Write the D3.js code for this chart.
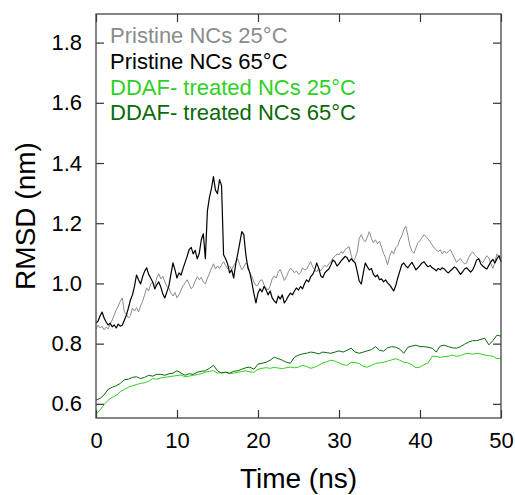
<!DOCTYPE html>
<html>
<head>
<meta charset="utf-8">
<script src="https://cdn.jsdelivr.net/npm/d3@7"></script>
<style>
  body { margin: 0; background: #fff; }
  svg text { font-family: "Liberation Sans", Arial, sans-serif; }
</style>
</head>
<body>
<svg id="chart"></svg>
<script>
let width = 515;
let height = 495;
let margin = { top: 14, right: 14, bottom: 77, left: 96 };

// sampled every 0.25 ns
let pristine25 = [
  0.848, 0.862, 0.852, 0.858, 0.846, 0.855, 0.849, 0.866, 0.878, 0.895, 0.912, 0.925, 0.941, 0.952, 0.905, 0.898,
  0.885, 0.893, 0.918, 0.908, 0.920, 0.905, 0.925, 0.940, 0.962, 0.985, 0.975, 0.998, 1.004, 0.990, 1.018, 1.032,
  1.015, 1.024, 1.005, 0.990, 0.985, 0.968, 0.958, 0.970, 0.952, 0.962, 0.978, 0.992, 1.002, 1.012, 0.998, 0.982,
  0.990, 1.008, 1.022, 1.012, 1.020, 1.005, 0.998, 1.018, 1.032, 1.050, 1.065, 1.048, 1.058, 1.050, 1.062, 1.072,
  1.060, 1.048, 1.058, 1.045, 1.060, 1.070, 1.082, 1.062, 1.045, 1.055, 1.068, 1.060, 1.035, 1.022, 1.005, 0.992,
  0.995, 1.010, 1.012, 0.995, 0.985, 0.978, 0.992, 1.015, 1.025, 1.018, 1.038, 1.046, 1.028, 1.010, 1.022, 1.038,
  1.050, 1.045, 1.035, 1.042, 1.030, 1.035, 1.052, 1.045, 1.048, 1.060, 1.072, 1.055, 1.045, 1.038, 1.050, 1.042,
  1.052, 1.060, 1.055, 1.066, 1.072, 1.085, 1.090, 1.098, 1.095, 1.105, 1.100, 1.112, 1.118, 1.122, 1.095, 1.072,
  1.085, 1.105, 1.150, 1.162, 1.145, 1.138, 1.155, 1.172, 1.150, 1.135, 1.145, 1.132, 1.140, 1.120, 1.100, 1.085,
  1.062, 1.090, 1.108, 1.098, 1.118, 1.125, 1.145, 1.158, 1.178, 1.190, 1.160, 1.125, 1.108, 1.100, 1.118, 1.135,
  1.142, 1.152, 1.162, 1.155, 1.148, 1.138, 1.128, 1.118, 1.112, 1.105, 1.112, 1.098, 1.108, 1.100, 1.106, 1.112,
  1.098, 1.085, 1.070, 1.078, 1.082, 1.072, 1.065, 1.068, 1.085, 1.098, 1.105, 1.095, 1.088, 1.082, 1.075, 1.068,
  1.080, 1.092, 1.085, 1.065, 1.050, 1.072, 1.098, 1.088, 1.092
];

let pristine65 = [
  0.868, 0.875, 0.892, 0.905, 0.885, 0.872, 0.862, 0.868, 0.856, 0.862, 0.852, 0.865, 0.858, 0.862, 0.878, 0.895,
  0.918, 0.945, 0.962, 0.990, 1.028, 1.012, 0.998, 1.022, 1.040, 1.052, 1.030, 1.018, 1.005, 0.982, 0.995, 1.005,
  0.988, 0.965, 0.952, 0.972, 0.992, 1.030, 1.068, 1.045, 1.018, 1.035, 1.028, 1.050, 1.070, 1.090, 1.112, 1.120,
  1.098, 1.110, 1.082, 1.100, 1.145, 1.165, 1.082, 1.240, 1.285, 1.315, 1.355, 1.310, 1.298, 1.345, 1.325, 1.095,
  1.082, 1.065, 1.035, 1.045, 1.018, 1.065, 1.098, 1.135, 1.172, 1.162, 1.095, 1.052, 1.035, 1.002, 0.965, 0.935,
  0.968, 0.982, 0.972, 0.990, 0.978, 0.962, 0.975, 0.952, 0.942, 0.935, 0.958, 0.948, 0.962, 0.935, 0.945, 0.958,
  0.968, 0.962, 0.975, 0.985, 0.978, 0.990, 0.982, 1.000, 1.012, 1.005, 1.022, 1.030, 1.045, 1.068, 1.050, 1.025,
  1.020, 1.035, 1.042, 1.048, 1.062, 1.078, 1.072, 1.058, 1.065, 1.075, 1.082, 1.090, 1.085, 1.072, 1.082, 1.075,
  1.068, 1.040, 1.008, 0.998, 1.035, 1.068, 1.055, 1.045, 1.050, 1.030, 1.022, 1.028, 1.012, 1.015, 1.005, 1.012,
  1.002, 0.995, 0.985, 0.975, 0.992, 1.018, 1.040, 1.062, 1.068, 1.058, 1.052, 1.062, 1.070, 1.058, 1.045, 1.052,
  1.060, 1.068, 1.072, 1.062, 1.055, 1.060, 1.052, 1.048, 1.042, 1.050, 1.045, 1.052, 1.048, 1.040, 1.035, 1.042,
  1.048, 1.055, 1.050, 1.040, 1.030, 1.038, 1.048, 1.052, 1.045, 1.038, 1.045, 1.060, 1.078, 1.082, 1.065, 1.058,
  1.052, 1.048, 1.060, 1.072, 1.080, 1.068, 1.082, 1.092, 1.072
];

// sampled every 0.5 ns
let ddaf25 = [
  0.565, 0.580, 0.598, 0.612, 0.622, 0.628, 0.640, 0.648, 0.655, 0.660, 0.664, 0.668, 0.670, 0.675, 0.684, 0.682,
  0.686, 0.688, 0.690, 0.692, 0.694, 0.696, 0.690, 0.692, 0.695, 0.697, 0.700, 0.705, 0.708, 0.710, 0.702, 0.704,
  0.705, 0.700, 0.702, 0.705, 0.707, 0.710, 0.706, 0.705, 0.715, 0.718, 0.720, 0.718, 0.721, 0.719, 0.717, 0.720,
  0.722, 0.720, 0.722, 0.728, 0.724, 0.718, 0.722, 0.728, 0.736, 0.740, 0.745, 0.742, 0.736, 0.730, 0.728, 0.738,
  0.737, 0.734, 0.724, 0.722, 0.728, 0.734, 0.736, 0.738, 0.742, 0.746, 0.750, 0.745, 0.738, 0.736, 0.730, 0.720,
  0.722, 0.730, 0.736, 0.758, 0.758, 0.754, 0.757, 0.758, 0.762, 0.758, 0.760, 0.766, 0.768, 0.765, 0.768, 0.766,
  0.762, 0.760, 0.758, 0.750, 0.752
];

let ddaf65 = [
  0.612, 0.618, 0.630, 0.648, 0.655, 0.660, 0.668, 0.680, 0.682, 0.688, 0.690, 0.684, 0.688, 0.695, 0.692, 0.698,
  0.698, 0.695, 0.700, 0.702, 0.710, 0.702, 0.695, 0.700, 0.698, 0.705, 0.708, 0.710, 0.718, 0.728, 0.710, 0.702,
  0.705, 0.702, 0.708, 0.710, 0.715, 0.720, 0.722, 0.715, 0.732, 0.735, 0.738, 0.745, 0.755, 0.750, 0.745, 0.738,
  0.735, 0.755, 0.762, 0.766, 0.768, 0.772, 0.770, 0.766, 0.772, 0.770, 0.768, 0.772, 0.776, 0.772, 0.778, 0.785,
  0.772, 0.768, 0.772, 0.776, 0.780, 0.790, 0.778, 0.775, 0.786, 0.790, 0.788, 0.782, 0.768, 0.788, 0.792, 0.795,
  0.790, 0.790, 0.788, 0.785, 0.772, 0.792, 0.795, 0.790, 0.786, 0.785, 0.790, 0.798, 0.805, 0.810, 0.810, 0.814,
  0.818, 0.796, 0.810, 0.828, 0.825
];

let seriesNames = ['Pristine NCs 25°C', 'Pristine NCs 65°C', 'DDAF- treated NCs 25°C', 'DDAF- treated NCs 65°C'];
let seriesColors = ['#8c8c8c', '#000000', '#2fd01f', '#0a6a0a'];
let seriesWidths = [1, 1.2, 1, 1];
let seriesSteps = [0.25, 0.25, 0.5, 0.5];
let seriesValues = [pristine25, pristine65, ddaf25, ddaf65];

let xTicks = [0, 10, 20, 30, 40, 50];
let yTicks = [0.6, 0.8, 1.0, 1.2, 1.4, 1.6, 1.8];

let svg = d3.select('#chart')
  .attr('width', width)
  .attr('height', height);

let x = d3.scaleLinear().domain([0, 50]).range([margin.left, width - margin.right]);
let y = d3.scaleLinear().domain([0.553, 1.895]).range([height - margin.bottom, margin.top]);

let line = d3.line()
  .x(d => x(d[0]))
  .y(d => y(d[1]));

// lines
svg.append('g').attr('class', 'lines')
  .selectAll('path')
  .data(seriesValues)
  .enter()
  .append('path')
  .attr('fill', 'none')
  .attr('stroke', (d, i) => seriesColors[i])
  .attr('stroke-width', (d, i) => seriesWidths[i])
  .attr('stroke-linejoin', 'round')
  .attr('d', (d, i) => line(d.map((v, j) => [j * seriesSteps[i], v])));

// axes, ticks pointing inward
let tickLen = 8;
svg.append('g')
  .attr('transform', `translate(0,${height - margin.bottom})`)
  .call(d3.axisBottom(x).tickValues(xTicks).tickSize(-tickLen).tickPadding(14).tickFormat(d3.format('d')));
svg.append('g')
  .attr('transform', `translate(0,${margin.top})`)
  .call(d3.axisTop(x).tickValues(xTicks).tickSize(-tickLen).tickFormat(''));
svg.append('g')
  .attr('transform', `translate(${margin.left},0)`)
  .call(d3.axisLeft(y).tickValues(yTicks).tickSize(-tickLen).tickPadding(14).tickFormat(d3.format('.1f')));
svg.append('g')
  .attr('transform', `translate(${width - margin.right},0)`)
  .call(d3.axisRight(y).tickValues(yTicks).tickSize(-tickLen).tickFormat(''));

svg.selectAll('.domain').remove();
svg.selectAll('.tick line').attr('stroke', '#333').attr('stroke-width', 1.2);
svg.selectAll('.tick text')
  .attr('fill', '#000')
  .style('font-size', '22px');

// frame
svg.append('rect')
  .attr('x', margin.left)
  .attr('y', margin.top)
  .attr('width', width - margin.left - margin.right)
  .attr('height', height - margin.top - margin.bottom)
  .attr('fill', 'none')
  .attr('stroke', '#444')
  .attr('stroke-width', 1.3);

// axis titles
svg.append('text')
  .attr('x', (margin.left + width - margin.right) / 2)
  .attr('y', 488)
  .attr('text-anchor', 'middle')
  .style('font-size', '28px')
  .text('Time (ns)');

svg.append('text')
  .attr('transform', `translate(35,${(margin.top + height - margin.bottom) / 2}) rotate(-90)`)
  .attr('text-anchor', 'middle')
  .style('font-size', '28px')
  .text('RMSD (nm)');

// legend
svg.append('g').attr('class', 'legend')
  .selectAll('text')
  .data(seriesNames)
  .enter()
  .append('text')
  .attr('x', 110)
  .attr('y', (d, i) => 43 + i * 25.8)
  .attr('fill', (d, i) => seriesColors[i])
  .style('font-size', '22px')
  .text(d => d);
</script>
</body>
</html>
